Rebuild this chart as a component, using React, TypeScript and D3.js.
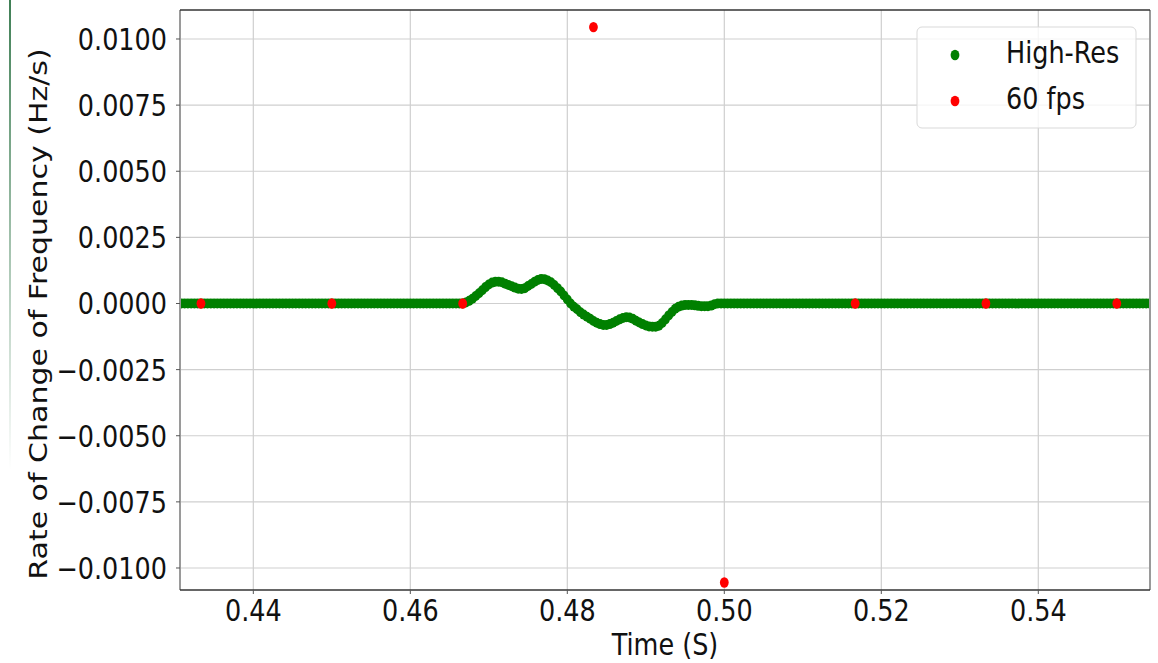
import * as d3 from "d3";

const WIDTH = 1158;
const HEIGHT = 663;
const MARGIN = { top: 10, right: 8, bottom: 73, left: 180 };

const X_DOMAIN = [0.43066, 0.55423];
const Y_DOMAIN = [-0.010832, 0.011096];
const X_TICKS = [0.44, 0.46, 0.48, 0.5, 0.52, 0.54];
const Y_TICKS = [0.01, 0.0075, 0.005, 0.0025, 0, -0.0025, -0.005, -0.0075, -0.01];

// High-Res series: sampled at 2400 Hz from 0.43 s, flat at zero outside the disturbance
const HIGH_RES_START = 0.43;
const HIGH_RES_RATE = 2400;
const HIGH_RES_LEAD_ZEROS = 88;
const HIGH_RES_WIGGLE = [
  0, 0.00004, 0.0001, 0.00018, 0.00028, 0.00039, 0.0005, 0.00062, 0.00072, 0.00079,
  0.00082, 0.00082, 0.0008, 0.00075, 0.0007, 0.00065, 0.0006, 0.00056, 0.00055, 0.00058,
  0.00066, 0.00074, 0.00082, 0.00089, 0.00093, 0.00092, 0.00087, 0.0008, 0.0007, 0.00058,
  0.00045, 0.0003, 0.00015, 0, -0.00012, -0.00022, -0.00033, -0.00042, -0.0005, -0.00058,
  -0.00066, -0.00073, -0.00078, -0.00081, -0.00081, -0.00078, -0.00073, -0.00066, -0.0006, -0.00055,
  -0.00052, -0.00053, -0.00058, -0.00065, -0.00072, -0.00078, -0.00083, -0.00087, -0.00088, -0.00088,
  -0.00084, -0.00074, -0.0006, -0.00045, -0.00032, -0.0002, -0.00012, -0.00008, -0.00006, -0.00006,
  -0.00006, -0.00007, -0.00009, -0.0001, -0.0001, -0.0001, -0.00008, -0.00003, 0,
];
const HIGH_RES_TAIL_ZEROS = 134;

// 60 fps series
const FPS_TIMES = [0.43333, 0.45, 0.46667, 0.48333, 0.5, 0.51667, 0.53333, 0.55];
const FPS_VALUES = [0, 0, 0, 0.01045, -0.01055, 0, 0, 0];

const FONT = "DejaVu Sans, sans-serif";
const FONT_SIZE = 30;
const SQUEEZE = 0.85; // the figure is a bit narrower than tall

const fmtY = (v: number) => (v < 0 ? "\u2212" : "") + Math.abs(v).toFixed(4);

type LabelProps = {
  x: number;
  y: number;
  anchor?: "start" | "middle" | "end";
  rotate?: number;
  children: string;
};

const Label = ({ x, y, anchor = "start", rotate, children }: LabelProps) => (
  <g transform={`translate(${x},${y}) scale(${SQUEEZE},1)${rotate ? ` rotate(${rotate})` : ""}`}>
    <text textAnchor={anchor} fontSize={FONT_SIZE} fontFamily={FONT} fill="#111">
      {children}
    </text>
  </g>
);

export default function App() {
  const x0 = MARGIN.left;
  const x1 = WIDTH - MARGIN.right;
  const y0 = MARGIN.top;
  const y1 = HEIGHT - MARGIN.bottom;

  const x = d3.scaleLinear().domain(X_DOMAIN).range([x0, x1]);
  const y = d3.scaleLinear().domain(Y_DOMAIN).range([y1, y0]);

  const highRes = [
    ...new Array(HIGH_RES_LEAD_ZEROS).fill(0),
    ...HIGH_RES_WIGGLE,
    ...new Array(HIGH_RES_TAIL_ZEROS).fill(0),
  ].map((v, i) => ({ t: HIGH_RES_START + i / HIGH_RES_RATE, v }));

  const fps = FPS_TIMES.map((t, i) => ({ t, v: FPS_VALUES[i] }));

  const legendItems = [
    { label: "High-Res", color: "green" },
    { label: "60 fps", color: "red" },
  ];

  return (
    <svg
      width={WIDTH}
      height={HEIGHT}
      style={{ position: "absolute", left: 0, top: 0, background: "#fff" }}
    >
      <defs>
        <clipPath id="plot">
          <rect x={x0} y={y0} width={x1 - x0} height={y1 - y0} />
        </clipPath>
        <linearGradient id="edge" x1="0" y1="0" x2="0" y2="1">
          <stop offset="0" stopColor="#3f7f55" stopOpacity={1} />
          <stop offset="1" stopColor="#3f7f55" stopOpacity={0} />
        </linearGradient>
      </defs>

      {/* faint window edge on the far left */}
      <rect x={9} y={0} width={2} height={470} fill="url(#edge)" />

      {/* grid */}
      {X_TICKS.map((t) => (
        <line key={`gx${t}`} x1={x(t)} x2={x(t)} y1={y0} y2={y1} stroke="#cfcfcf" strokeWidth={1.2} />
      ))}
      {Y_TICKS.map((t) => (
        <line key={`gy${t}`} x1={x0} x2={x1} y1={y(t)} y2={y(t)} stroke="#cfcfcf" strokeWidth={1.2} />
      ))}

      {/* points */}
      <g clipPath="url(#plot)">
        {highRes.map((d, i) => (
          <ellipse key={`h${i}`} cx={x(d.t)} cy={y(d.v)} rx={4.4} ry={5} fill="green" />
        ))}
        {fps.map((d, i) => (
          <ellipse key={`f${i}`} cx={x(d.t)} cy={y(d.v)} rx={4.4} ry={5.2} fill="red" />
        ))}
      </g>

      {/* spines */}
      <line x1={x0} x2={x0} y1={y0} y2={y1} stroke="#9a9a9a" strokeWidth={2} />
      <line x1={x1} x2={x1} y1={y0} y2={y1} stroke="#9a9a9a" strokeWidth={2} />
      <line x1={x0} x2={x1} y1={y0} y2={y0} stroke="#333" strokeWidth={1.3} />
      <line x1={x0} x2={x1} y1={y1} y2={y1} stroke="#333" strokeWidth={1.3} />

      {/* y ticks */}
      {Y_TICKS.map((t) => (
        <g key={`ty${t}`}>
          <line x1={x0 - 4} x2={x0} y1={y(t)} y2={y(t)} stroke="#555" strokeWidth={1} />
          <Label x={x0 - 13} y={y(t) + 11} anchor="end">
            {fmtY(t)}
          </Label>
        </g>
      ))}

      {/* x ticks */}
      {X_TICKS.map((t) => (
        <g key={`tx${t}`}>
          <line x1={x(t)} x2={x(t)} y1={y1} y2={y1 + 4} stroke="#555" strokeWidth={1} />
          <Label x={x(t)} y={621} anchor="middle">
            {t.toFixed(2)}
          </Label>
        </g>
      ))}

      {/* axis titles */}
      <Label x={47} y={(y0 + y1) / 2 + 14} anchor="middle" rotate={-90}>
        Rate of Change of Frequency (Hz/s)
      </Label>
      <Label x={(x0 + x1) / 2} y={655} anchor="middle">
        Time (S)
      </Label>

      {/* legend */}
      <rect x={917} y={27} width={219} height={101} rx={5} fill="#fff" fillOpacity={0.8} stroke="#d9d9d9" />
      {legendItems.map((item, i) => (
        <g key={item.label}>
          <ellipse cx={955} cy={55 + i * 46} rx={4.4} ry={5.2} fill={item.color} />
          <Label x={1006} y={63 + i * 46}>
            {item.label}
          </Label>
        </g>
      ))}
    </svg>
  );
}
